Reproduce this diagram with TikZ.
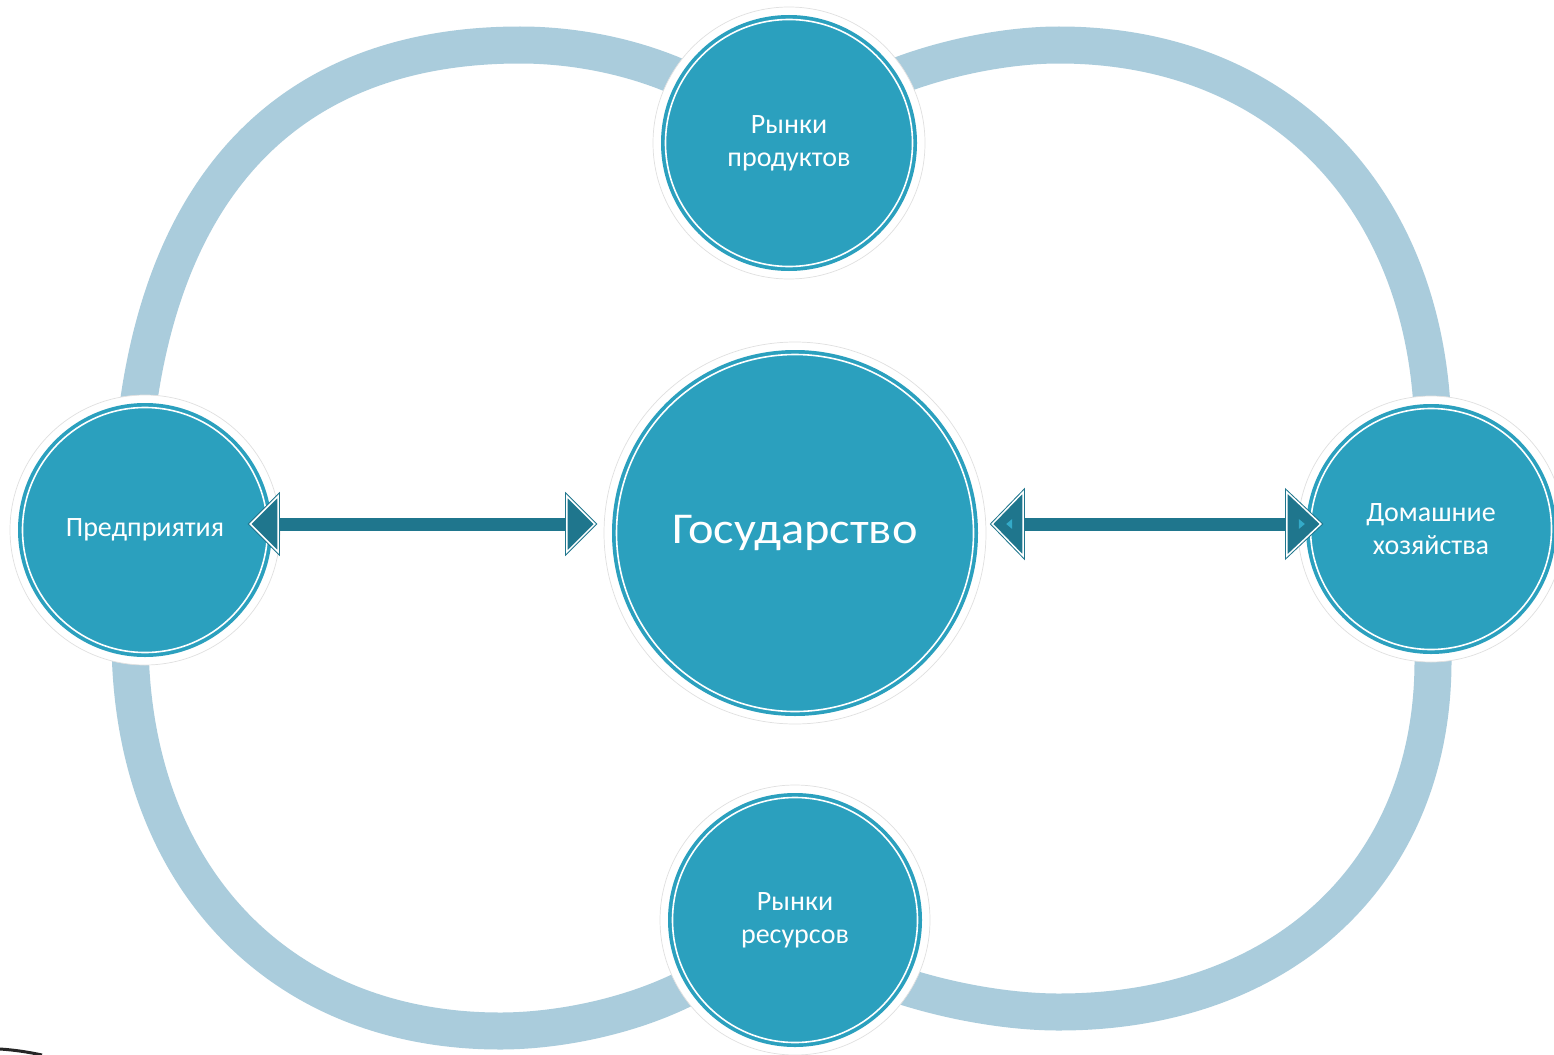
\documentclass[tikz,border=0pt]{standalone}
\usepackage{fontspec}
\setmainfont{Carlito}
\newfontfamily\govfont[FakeStretch=1.1]{Carlito}
\usetikzlibrary{calc}
\definecolor{ringc}{RGB}{170,204,220}
\definecolor{tealc}{RGB}{43,160,190}
\definecolor{arrc}{RGB}{31,118,141}
\definecolor{innerc}{RGB}{52,170,200}
\tikzset{
 ring/.style={draw=ringc, line width=37pt},
 bubble/.style={circle, fill=tealc, text=white, inner sep=0pt, align=center},
 halo/.style={fill=white, draw=black!12, line width=0.7pt},
 rimline/.style={draw=white, line width=1.6pt},
 shaft/.style={draw=arrc, line width=13pt},
 headtip/.style={fill=arrc, draw=arrc, double=white, double distance=1.5pt, line width=1pt, line join=miter},
 smallfont/.style={font=\fontsize{28}{33}\selectfont},
 bigfont/.style={font=\govfont\fontsize{44}{50}\selectfont},
}
\newcommand\bub[6]{%
 \filldraw[halo] (#2,#3) circle ({#4+8});
 \node[bubble,#5,minimum size=#4*2pt] (#1) at (#2,#3) {#6};
 \draw[rimline] (#1.center) circle ({#4-4.5});
}
\newcommand\ahead[3]{%
 \filldraw[headtip] (#1) -- ++(#2,#3) -- ++(0,{-2*(#3)}) -- cycle;
}
\begin{document}
\begin{tikzpicture}[x=1pt,y=-1pt]
\useasboundingbox (0,0) rectangle (1554,1054);
\fill[white] (0,0) rectangle (1554,1054);
% ring loops
\draw[ring] (720,99) .. controls (665,64) and (590,45) .. (520,45)
  .. controls (266,45) and (130,215) .. (130,530) -- (130,638)
  .. controls (130,874) and (278,1031) .. (500,1031)
  .. controls (570,1031) and (660,1010) .. (720,968);
\draw[ring] (860,93) .. controls (915,64) and (995,45) .. (1059,45)
  .. controls (1283,45) and (1433,203) .. (1433,440) -- (1433,661)
  .. controls (1433,872) and (1283,1012) .. (1059,1012)
  .. controls (995,1012) and (920,995) .. (870,974);
% bubbles
\bub{top}{789}{143}{128}{smallfont}{Рынки\\продуктов}
\bub{gov}{795}{533}{183}{bigfont}{Государство}
\bub{ent}{145}{530}{127}{smallfont}{Предприятия}
\bub{home}{1431}{529}{125}{smallfont}{Домашние\\хозяйства}
\bub{bot}{795}{920}{127}{smallfont}{Рынки\\ресурсов}
% arrows
\coordinate (la) at ($(ent.east)+(-22,-6)$);
\coordinate (lb) at ($(gov.west)+(-17,-9)$);
\draw[shaft] ($(la)+(25,0)$) -- ($(lb)+(-25,0)$);
\ahead{la}{28}{28}
\ahead{lb}{-28}{28}
\coordinate (ra) at ($(gov.east)+(14,-9)$);
\coordinate (rb) at ($(home.west)+(15,-5)$);
\draw[shaft] ($(ra)+(28,0)$) -- ($(rb)+(-30,0)$);
\ahead{ra}{31}{32}
\ahead{rb}{-34}{32}
\fill[innerc] ($(ra)+(14,0)$) -- ++(6,-5) -- ++(0,10) -- cycle;
\fill[innerc] ($(rb)+(-16,0)$) -- ++(-6,-5) -- ++(0,10) -- cycle;
% corner swoosh
\draw[black!85, line width=3pt] (0,1049) .. controls (15,1050) and (28,1052) .. (42,1055);
\end{tikzpicture}
\end{document}
